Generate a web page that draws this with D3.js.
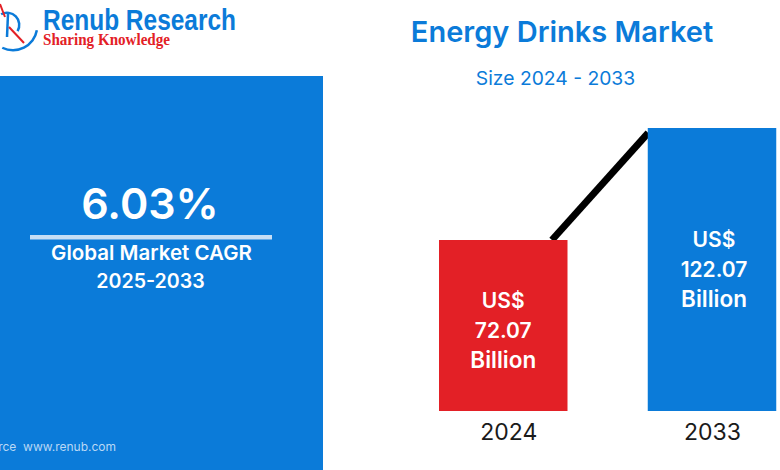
<!DOCTYPE html>
<html>
<head>
<meta charset="utf-8">
<script src="https://cdn.jsdelivr.net/npm/d3@7"></script>
<style>
  html, body { margin: 0; padding: 0; background: #fff; overflow: hidden; }
  svg { display: block; }
</style>
</head>
<body>
<svg id="chart"></svg>
<script>
const years = [2024, 2033];
const values = [72.07, 122.07];
const barLabels = [["US$", "72.07", "Billion"], ["US$", "122.07", "Billion"]];
const trendYears = [2026.1, 2030.25];
const trendValues = [72.07, 119.9];

const width = 780;
const height = 470;
const blue = "#0b7bd9";
const red = "#e32026";
const mainFont = "Inter, sans-serif";

const svg = d3.select("#chart")
    .attr("width", width)
    .attr("height", height)
    .style("font-family", mainFont);

// left panel
svg.append("rect")
    .attr("x", -5).attr("y", 76)
    .attr("width", 328).attr("height", 400)
    .attr("fill", blue);

svg.append("text")
    .attr("x", 150).attr("y", 219)
    .attr("text-anchor", "middle")
    .attr("font-size", 43).attr("font-weight", 600)
    .attr("fill", "#fff")
    .text("6.03%");

svg.append("rect")
    .attr("x", 30).attr("y", 235)
    .attr("width", 242).attr("height", 4.5)
    .attr("fill", "#c6def5");

svg.append("text")
    .attr("x", 151.5).attr("y", 260)
    .attr("text-anchor", "middle")
    .attr("font-size", 20.5).attr("font-weight", 600)
    .attr("fill", "#fff")
    .text("Global Market CAGR");

svg.append("text")
    .attr("x", 150.5).attr("y", 288)
    .attr("text-anchor", "middle")
    .attr("font-size", 19.6).attr("font-weight", 600)
    .attr("fill", "#fff")
    .text("2025-2033");

svg.append("text")
    .attr("x", 116).attr("y", 451)
    .attr("text-anchor", "end")
    .attr("font-size", 12)
    .attr("fill", "#b9d8f5")
    .attr("xml:space", "preserve")
    .text("Source  www.renub.com");

// logo
const logo = svg.append("g").attr("fill", "none");
logo.append("path")
    .attr("d", d3.arc()({innerRadius: 23, outerRadius: 25.5, startAngle: 1.75, endAngle: 3.6}))
    .attr("transform", "translate(13,26)")
    .attr("fill", blue).attr("stroke", "none");
logo.append("path")
    .attr("d", d3.arc()({innerRadius: 11, outerRadius: 13.5, startAngle: -0.5, endAngle: 2.1}))
    .attr("transform", "translate(7,25)")
    .attr("fill", blue).attr("stroke", "none");
logo.append("path")
    .attr("d", "M7 37L8 14").attr("stroke", blue).attr("stroke-width", 2.5);
logo.append("path")
    .attr("d", "M9 27L24 43").attr("stroke", red).attr("stroke-width", 2);
logo.append("path")
    .attr("d", "M0 4L5 17").attr("stroke", red).attr("stroke-width", 2);

svg.append("text")
    .attr("x", 43).attr("y", 30)
    .style("font-family", "'Liberation Sans Narrow', 'Liberation Sans'")
    .attr("font-size", 30).attr("font-weight", 700)
    .attr("textLength", 193).attr("lengthAdjust", "spacingAndGlyphs")
    .attr("fill", blue)
    .text("Renub Research");

svg.append("text")
    .attr("x", 43).attr("y", 45)
    .style("font-family", "'Liberation Serif'")
    .attr("font-size", 16).attr("font-weight", 700)
    .attr("textLength", 127).attr("lengthAdjust", "spacingAndGlyphs")
    .attr("fill", red)
    .text("Sharing Knowledge");

// titles
svg.append("text")
    .attr("x", 562).attr("y", 42)
    .attr("text-anchor", "middle")
    .attr("font-size", 29).attr("font-weight", 600)
    .attr("fill", blue)
    .text("Energy Drinks Market");

svg.append("text")
    .attr("x", 555.5).attr("y", 85)
    .attr("text-anchor", "middle")
    .attr("font-size", 19.3)
    .attr("fill", blue)
    .text("Size 2024 - 2033");

// scales: the picture's bars sit on a slightly negative baseline
const x = d3.scaleLinear().domain(years).range([503.25, 712]);
const y = d3.scaleLinear().domain([-4.27, 122.07]).range([411, 128]);
const barWidth = 128.5;

const trend = d3.line().x((d, i) => x(trendYears[i])).y(d => y(d));
svg.append("path")
    .attr("d", trend(trendValues))
    .attr("fill", "none")
    .attr("stroke", "#000")
    .attr("stroke-width", 7);

svg.selectAll("rect.bar")
    .data(values)
    .enter()
    .append("rect")
    .attr("class", "bar")
    .attr("x", (d, i) => x(years[i]) - barWidth / 2)
    .attr("y", d => y(d))
    .attr("width", barWidth)
    .attr("height", d => y.range()[0] - y(d))
    .attr("fill", (d, i) => i === 0 ? red : blue);

// value labels sit at fixed offsets below each bar top
const labelTop = [68, 119];
const lineGap = [0, 30, 60];
barLabels.forEach((lines, i) => {
    lines.forEach((line, j) => {
        svg.append("text")
            .attr("x", x(years[i]) + (i === 0 ? 0 : 2))
            .attr("y", y(values[i]) + labelTop[i] + lineGap[j])
            .attr("text-anchor", "middle")
            .attr("font-size", j === 2 ? 22.5 : 21).attr("font-weight", 600)
            .attr("fill", "#fff")
            .text(line);
    });
});

const xAxis = d3.axisBottom(x).tickValues(years).tickFormat(d3.format("d")).tickSize(0);
const axisG = svg.append("g")
    .attr("transform", "translate(0, 411)")
    .call(xAxis);
axisG.select(".domain").remove();
axisG.selectAll("text")
    .attr("y", 13)
    .style("font-family", mainFont)
    .attr("font-size", 23)
    .attr("fill", "#1a1a1a");
axisG.selectAll("text").filter(d => d === 2024).attr("dx", 5);
</script>
</body>
</html>
